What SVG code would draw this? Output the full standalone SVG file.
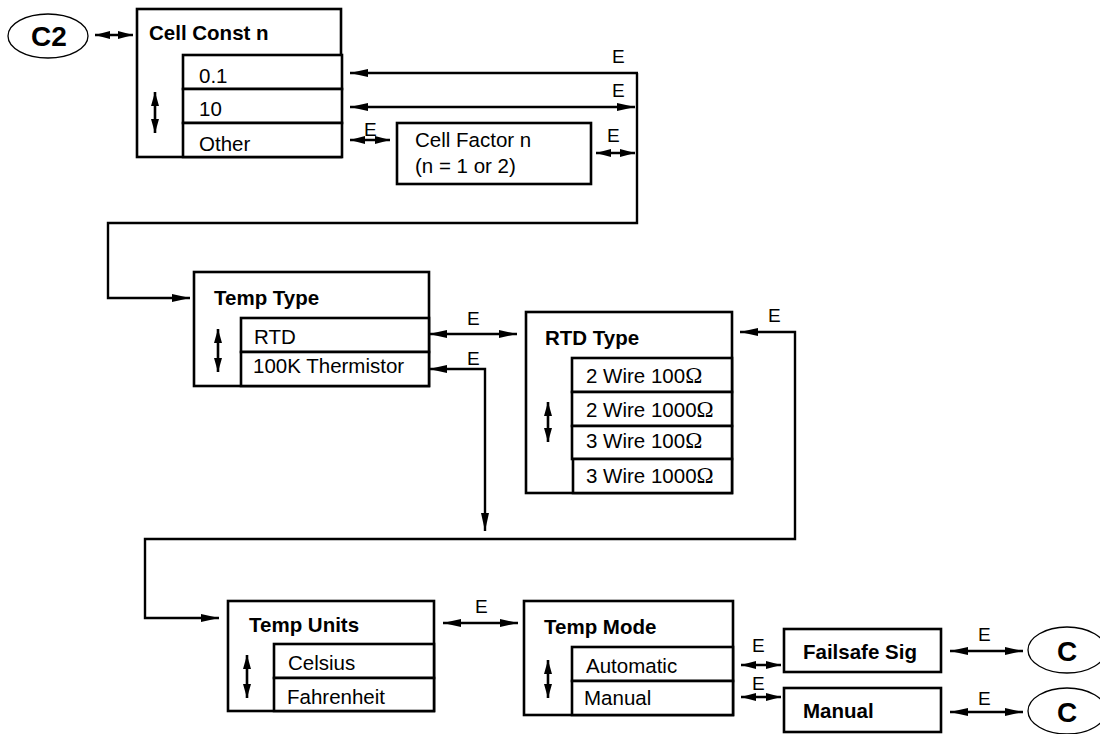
<svg xmlns="http://www.w3.org/2000/svg" width="1100" height="734" viewBox="0 0 1100 734">
<style>
text{font-family:"Liberation Sans",Arial,sans-serif;fill:#000}
.t{font-size:20.5px;font-weight:bold}
.i{font-size:20.5px}
.e{font-size:19px}
.c{font-size:28px;font-weight:bold;text-anchor:middle}
.box{fill:#fff;stroke:#000;stroke-width:2.6}
.ell{fill:#fff;stroke:#000;stroke-width:1.3}
.ln{fill:none;stroke:#000;stroke-width:2.4}
.d{marker-start:url(#a);marker-end:url(#a)}
.s{marker-start:url(#s);marker-end:url(#s)}
.ud{fill:none;stroke:#000;stroke-width:2.6;marker-start:url(#h);marker-end:url(#h)}
.om{font-family:"Liberation Serif","DejaVu Serif",serif;font-size:23px}
</style>
<defs>
<marker id="a" viewBox="0 0 18 8" refX="18" refY="4" markerWidth="18" markerHeight="8" markerUnits="userSpaceOnUse" orient="auto-start-reverse"><path d="M0,0 L18,4 L0,8 z"/></marker>
<marker id="s" viewBox="0 0 15 8" refX="15" refY="4" markerWidth="15" markerHeight="8" markerUnits="userSpaceOnUse" orient="auto-start-reverse"><path d="M0,0 L15,4 L0,8 z"/></marker>
<marker id="h" viewBox="0 0 14 8" refX="14" refY="4" markerWidth="14" markerHeight="8" markerUnits="userSpaceOnUse" orient="auto-start-reverse"><path d="M0,0 L14,4 L0,8 z"/></marker>
</defs>
<rect width="1100" height="734" fill="#fff"/>

<g id="connectors">
<line class="ln s" x1="95" y1="35" x2="133" y2="35"/>
<path class="ln" d="M638,73 H350" marker-end="url(#a)"/>
<line class="ln d" x1="350" y1="107" x2="635" y2="107"/>
<path class="ln" d="M637,73 V223 H108 V298 H190" marker-end="url(#a)"/>
<line class="ln s" x1="350" y1="140" x2="390" y2="140"/>
<line class="ln s" x1="596" y1="153" x2="635" y2="153"/>
<line class="ln d" x1="429" y1="334" x2="517" y2="334"/>
<path class="ln d" d="M429,369 H485 V531"/>
<path class="ln d" d="M740,332 H795 V539 H145 V618 H219"/>
<line class="ln d" x1="443" y1="623" x2="518" y2="623"/>
<line class="ln s" x1="741" y1="665" x2="781" y2="665"/>
<line class="ln s" x1="741" y1="697" x2="781" y2="697"/>
<line class="ln d" x1="950" y1="651" x2="1023" y2="651"/>
<line class="ln d" x1="950" y1="712" x2="1023" y2="712"/>
<text class="e" x="612" y="63">E</text>
<text class="e" x="612" y="97">E</text>
<text class="e" x="364" y="136">E</text>
<text class="e" x="607" y="142">E</text>
<text class="e" x="467" y="325">E</text>
<text class="e" x="467" y="365">E</text>
<text class="e" x="768" y="322">E</text>
<text class="e" x="475" y="613">E</text>
<text class="e" x="752" y="652">E</text>
<text class="e" x="752" y="690">E</text>
<text class="e" x="978" y="641">E</text>
<text class="e" x="978" y="705">E</text>
</g>

<g id="c2">
<ellipse class="ell" cx="48" cy="36" rx="40" ry="22"/>
<text class="c" x="49" y="46">C2</text>
</g>

<g id="cell-const">
<rect class="box" x="137" y="9" width="204" height="148"/>
<rect class="box" x="183" y="55" width="159" height="34"/>
<rect class="box" x="183" y="89" width="159" height="34"/>
<rect class="box" x="183" y="123" width="159" height="34"/>
<text class="t" x="149" y="40">Cell Const n</text>
<text class="i" x="199" y="83">0.1</text>
<text class="i" x="199" y="116">10</text>
<text class="i" x="199" y="151">Other</text>
<line class="ud" x1="155" y1="92" x2="155" y2="133"/>
</g>

<g id="cell-factor">
<rect class="box" x="397" y="123" width="194" height="61"/>
<text class="i" x="415" y="147">Cell Factor n</text>
<text class="i" x="415" y="173">(n = 1 or 2)</text>
</g>

<g id="temp-type">
<rect class="box" x="194" y="272" width="235" height="114"/>
<rect class="box" x="241" y="318" width="188" height="34"/>
<rect class="box" x="241" y="352" width="188" height="34"/>
<text class="t" x="214" y="305">Temp Type</text>
<text class="i" x="254" y="344">RTD</text>
<text class="i" x="253" y="373">100K Thermistor</text>
<line class="ud" x1="218" y1="329" x2="218" y2="372"/>
</g>

<g id="rtd-type">
<rect class="box" x="526" y="312" width="206" height="181"/>
<rect class="box" x="572" y="358" width="160" height="34"/>
<rect class="box" x="572" y="392" width="160" height="34"/>
<rect class="box" x="572" y="426" width="160" height="33"/>
<rect class="box" x="573" y="459" width="159" height="34"/>
<text class="t" x="545" y="345">RTD Type</text>
<text class="i" x="586" y="383">2 Wire 100<tspan class="om">Ω</tspan></text>
<text class="i" x="586" y="417">2 Wire 1000<tspan class="om">Ω</tspan></text>
<text class="i" x="586" y="448">3 Wire 100<tspan class="om">Ω</tspan></text>
<text class="i" x="586" y="483">3 Wire 1000<tspan class="om">Ω</tspan></text>
<line class="ud" x1="548" y1="402" x2="548" y2="442"/>
</g>

<g id="temp-units">
<rect class="box" x="228" y="601" width="206" height="110"/>
<rect class="box" x="274" y="644" width="160" height="34"/>
<rect class="box" x="274" y="678" width="160" height="33"/>
<text class="t" x="249" y="632">Temp Units</text>
<text class="i" x="288" y="670">Celsius</text>
<text class="i" x="287" y="704">Fahrenheit</text>
<line class="ud" x1="247" y1="655" x2="247" y2="698"/>
</g>

<g id="temp-mode">
<rect class="box" x="524" y="601" width="209" height="114"/>
<rect class="box" x="572" y="647" width="161" height="34"/>
<rect class="box" x="572" y="681" width="161" height="34"/>
<text class="t" x="544" y="634">Temp Mode</text>
<text class="i" x="586" y="673">Automatic</text>
<text class="i" x="584" y="705">Manual</text>
<line class="ud" x1="548" y1="660" x2="548" y2="698"/>
</g>

<g id="failsafe-sig">
<rect class="box" x="784" y="629" width="157" height="43"/>
<text class="t" x="803" y="659">Failsafe Sig</text>
</g>

<g id="manual">
<rect class="box" x="784" y="688" width="157" height="44"/>
<text class="t" x="803" y="718">Manual</text>
</g>

<g id="c-1">
<ellipse class="ell" cx="1067" cy="650" rx="39" ry="23"/>
<text class="c" x="1067" y="661">C</text>
</g>

<g id="c-2">
<ellipse class="ell" cx="1067" cy="711" rx="39" ry="23"/>
<text class="c" x="1067" y="722">C</text>
</g>
</svg>
